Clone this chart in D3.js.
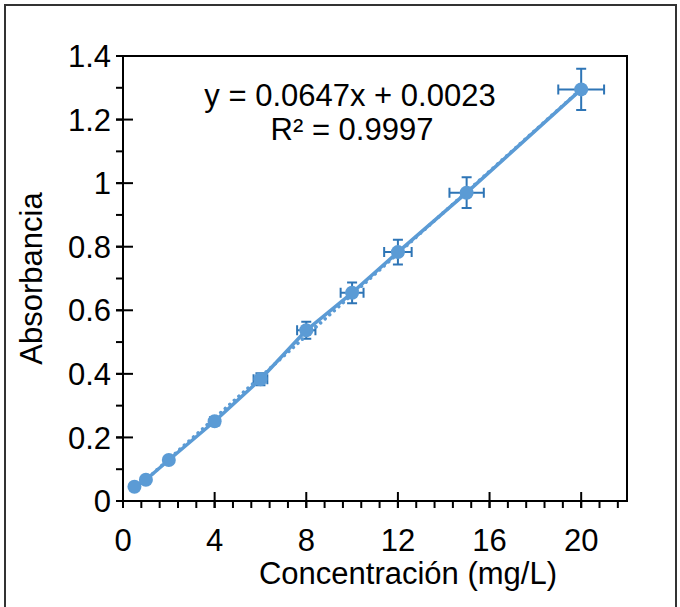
<!DOCTYPE html>
<html>
<head>
<meta charset="utf-8">
<script src="https://cdn.jsdelivr.net/npm/d3@7"></script>
<style>
  html, body { margin: 0; padding: 0; background: #fff; }
  svg { display: block; }
  text { font-family: "Liberation Sans", Arial, sans-serif; fill: #000; }
</style>
</head>
<body>
<script>
// ---- data ----
const concentration = [0.5, 1, 2, 4, 6, 8, 10, 12, 15, 20];
const absorbance    = [0.045, 0.067, 0.129, 0.251, 0.383, 0.537, 0.655, 0.783, 0.970, 1.295];
const errorPercent  = 0.05; // Excel percentage error bars (x and y)
const slope = 0.0647, intercept = 0.0023;
const equationText = "y = 0.0647x + 0.0023";
const r2Text = "R² = 0.9997";
const xTicks = [0, 4, 8, 12, 16, 20];
const yTicks = [0, 0.2, 0.4, 0.6, 0.8, 1, 1.2, 1.4];
const xTitle = "Concentración (mg/L)";
const yTitle = "Absorbancia";

const W = 680, H = 607;
const plot = { left: 123, right: 627, top: 56, bottom: 501 };
const lineColor = "#5B9BD5", errColor = "#2E75B6";

const svg = d3.select("body").append("svg").attr("width", W).attr("height", H);

// outer chart border
svg.append("rect").attr("x", 5).attr("y", 5).attr("width", 671).attr("height", 604)
  .attr("fill", "#fff").attr("stroke", "#333").attr("stroke-width", 2);

const x = d3.scaleLinear().domain([0, 22]).range([plot.left, plot.right]);
const y = d3.scaleLinear().domain([0, 1.4]).range([plot.bottom, plot.top]);

// plot border (top/right)
svg.append("path")
  .attr("d", `M${plot.left},${plot.top}H${plot.right}V${plot.bottom}`)
  .attr("fill", "none").attr("stroke", "#000").attr("stroke-width", 2);

// minor ticks
const xMinor = d3.range(0, 21.61, 0.8);
const yMinor = d3.range(0, 1.401, 0.1);

const gx = svg.append("g");
gx.selectAll("line.minor").data(xMinor).join("line")
  .attr("x1", d => x(d)).attr("x2", d => x(d))
  .attr("y1", plot.bottom).attr("y2", plot.bottom + 7)
  .attr("stroke", "#000").attr("stroke-width", 2);
gx.selectAll("line.major").data(xTicks).join("line")
  .attr("x1", d => x(d)).attr("x2", d => x(d))
  .attr("y1", plot.bottom - 9).attr("y2", plot.bottom + 7)
  .attr("stroke", "#000").attr("stroke-width", 2);
gx.append("line").attr("x1", plot.left - 1).attr("x2", plot.right + 1)
  .attr("y1", plot.bottom).attr("y2", plot.bottom)
  .attr("stroke", "#000").attr("stroke-width", 2);
gx.selectAll("text").data(xTicks).join("text")
  .attr("x", d => x(d)).attr("y", 551)
  .attr("text-anchor", "middle").attr("font-size", 31)
  .text(d => d);

const gy = svg.append("g");
gy.selectAll("line.minor").data(yMinor).join("line")
  .attr("x1", plot.left - 7).attr("x2", plot.left)
  .attr("y1", d => y(d)).attr("y2", d => y(d))
  .attr("stroke", "#000").attr("stroke-width", 2);
gy.selectAll("line.major").data(yTicks).join("line")
  .attr("x1", plot.left - 7).attr("x2", plot.left + 10)
  .attr("y1", d => y(d)).attr("y2", d => y(d))
  .attr("stroke", "#000").attr("stroke-width", 2);
gy.append("line").attr("x1", plot.left).attr("x2", plot.left)
  .attr("y1", plot.top - 1).attr("y2", plot.bottom + 1)
  .attr("stroke", "#000").attr("stroke-width", 2);
gy.selectAll("text").data(yTicks).join("text")
  .attr("x", 111).attr("y", d => y(d)).attr("dy", "0.36em")
  .attr("text-anchor", "end").attr("font-size", 31)
  .text(d => d3.format("")(+d.toFixed(1)));

// axis titles
svg.append("text").attr("x", 408).attr("y", 584).attr("text-anchor", "middle")
  .attr("font-size", 31).text(xTitle);
svg.append("text").attr("transform", `translate(42,${(plot.top + plot.bottom) / 2}) rotate(-90)`)
  .attr("text-anchor", "middle").attr("font-size", 31).text(yTitle);

const pts = concentration.map((c, i) => ({ x: c, y: absorbance[i] }));

// error bars
const eb = svg.append("g").attr("stroke", errColor).attr("stroke-width", 2).attr("fill", "none");
pts.forEach(p => {
  const dx = p.x * errorPercent, dy = p.y * errorPercent;
  const cx = x(p.x), cy = y(p.y);
  eb.append("path").attr("d",
    `M${x(p.x - dx)},${cy}H${x(p.x + dx)}` +
    `M${x(p.x - dx)},${cy - 5}V${cy + 5}M${x(p.x + dx)},${cy - 5}V${cy + 5}` +
    `M${cx},${y(p.y - dy)}V${y(p.y + dy)}` +
    `M${cx - 5},${y(p.y - dy)}H${cx + 5}M${cx - 5},${y(p.y + dy)}H${cx + 5}`);
});

// data line
svg.append("path").datum(pts)
  .attr("d", d3.line().x(d => x(d.x)).y(d => y(d.y)))
  .attr("fill", "none").attr("stroke", lineColor).attr("stroke-width", 3.5)
  .attr("stroke-linejoin", "round");

// linear trendline (dotted)
const xMin = d3.min(concentration), xMax = d3.max(concentration);
svg.append("path").datum([xMin, xMax])
  .attr("d", d3.line().x(d => x(d)).y(d => y(slope * d + intercept)))
  .attr("fill", "none").attr("stroke", lineColor).attr("stroke-width", 3.5)
  .attr("stroke-dasharray", "0.1,6").attr("stroke-linecap", "round");

// markers
svg.append("g").selectAll("circle").data(pts).join("circle")
  .attr("cx", d => x(d.x)).attr("cy", d => y(d.y)).attr("r", 7)
  .attr("fill", lineColor);

// equation
const eq = svg.append("text").attr("text-anchor", "middle").attr("font-size", 31);
eq.append("tspan").attr("x", 350).attr("y", 106).text(equationText);
eq.append("tspan").attr("x", 352).attr("y", 140).text(r2Text);
</script>
</body>
</html>
